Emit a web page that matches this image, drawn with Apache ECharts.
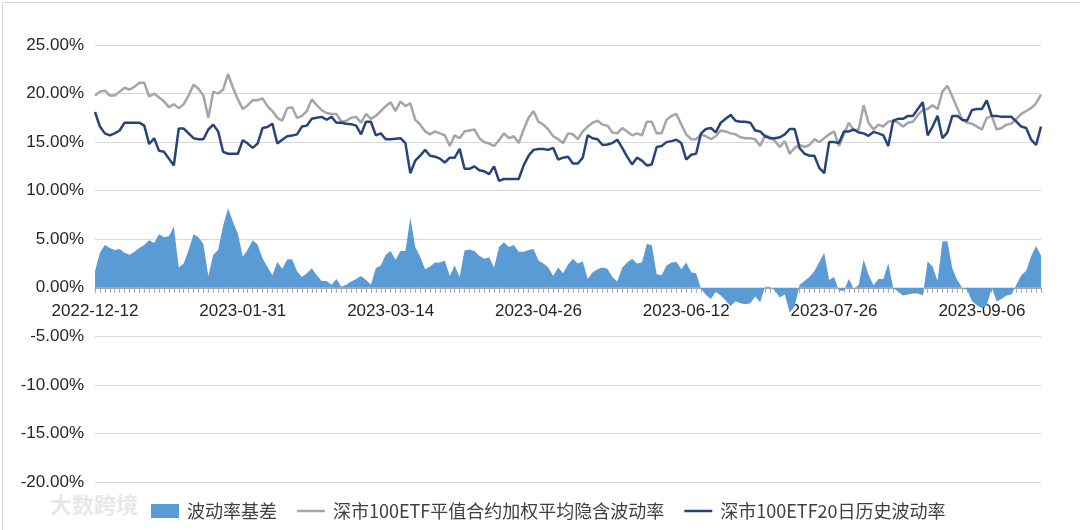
<!DOCTYPE html>
<html>
<head>
<meta charset="utf-8">
<script src="https://cdn.jsdelivr.net/npm/echarts@6/dist/echarts.min.js"></script>
<style>html,body{margin:0;padding:0;background:#fff}#c{width:1080px;height:530px}</style>
</head>
<body>
<div id="c"></div>
<script>
// ---- categories: trading days (SZSE) ----
const startDate = '2022-12-12';
const endDate = '2023-09-22';
const holidays = ['2023-01-02','2023-01-23','2023-01-24','2023-01-25','2023-01-26','2023-01-27',
  '2023-04-05','2023-05-01','2023-05-02','2023-05-03','2023-06-22','2023-06-23'];

// ---- series values (%) ----
const impliedVol = [
19.8,20.2,20.3,19.8,19.8,20.2,20.6,20.4,20.7,21.1,
21.1,19.7,20.0,19.6,19.2,18.6,18.9,18.5,18.9,19.8,
20.9,20.5,19.8,17.5,20.2,20.0,20.4,22.0,20.6,19.4,
18.4,18.8,19.3,19.3,19.5,18.7,18.2,17.5,17.2,18.5,
18.6,17.5,17.7,18.2,19.4,18.8,18.3,18.0,17.9,17.9,
17.1,17.2,17.5,17.6,17.0,17.9,17.4,17.7,18.2,18.7,
19.1,18.2,19.2,18.7,19.0,17.3,16.8,16.1,15.8,16.1,
15.9,15.7,14.6,15.7,15.4,16.1,16.2,16.3,15.4,15.0,
14.85,14.6,15.2,15.9,15.4,15.6,14.9,16.3,17.5,18.2,
17.1,16.8,16.3,15.6,15.3,14.9,15.9,15.8,15.3,16.1,
16.6,17.0,17.2,16.8,16.7,16.0,15.9,16.45,16.1,15.7,
15.9,15.7,17.1,17.1,15.9,15.9,17.3,17.7,17.9,16.8,
15.8,15.3,15.3,15.8,15.6,15.3,15.6,16.2,16.1,15.9,
15.8,15.5,15.4,15.4,15.3,14.6,15.7,15.5,15.1,14.5,
15.1,13.8,14.4,14.7,14.5,14.7,15.3,15.0,15.4,15.8,
16.1,14.6,15.8,17.0,16.2,16.3,18.8,17.0,16.3,16.8,
16.6,17.1,17.2,17.0,16.6,17.0,17.1,17.8,18.3,18.4,
18.8,18.4,20.2,20.8,19.7,18.5,17.3,17.0,16.9,16.6,
16.3,17.5,17.7,16.3,16.45,16.8,16.9,17.4,17.9,18.2,
18.5,19.0,19.9];

const histVol = [
18.1,16.6,15.9,15.7,15.9,16.2,17.0,17.0,17.0,17.0,
16.7,14.8,15.4,14.1,14.0,13.3,12.6,16.4,16.4,15.9,
15.4,15.3,15.3,16.3,16.8,16.1,14.0,13.8,13.8,13.8,
15.2,14.85,14.4,14.85,16.45,16.55,16.9,14.85,15.25,15.6,
15.67,15.8,16.6,16.7,17.4,17.5,17.6,17.3,17.6,17.0,
17.0,16.9,16.85,16.7,15.8,17.1,17.1,15.7,15.9,15.3,
15.3,15.35,15.4,14.9,11.8,13.1,13.6,14.2,13.6,13.5,
13.3,12.9,13.4,13.4,14.3,12.25,12.25,12.5,12.1,12.0,
11.7,12.5,11.0,11.2,11.2,11.2,11.2,12.6,13.6,14.2,
14.3,14.3,14.2,14.4,13.2,13.4,13.5,12.8,12.8,13.4,
15.7,15.4,15.3,14.7,14.75,14.9,15.25,14.4,13.5,12.7,
13.4,13.1,12.6,12.7,14.5,14.6,15.0,15.1,15.25,14.9,
13.2,13.7,13.8,15.9,16.35,16.45,16.0,17.0,17.4,17.8,
17.2,17.1,17.1,17.0,16.2,16.1,15.6,15.4,15.4,15.5,
15.8,16.35,16.35,14.4,13.8,13.6,13.6,12.35,11.8,15.0,
15.0,14.9,16.1,16.1,16.3,16.0,15.9,15.65,16.05,15.9,
15.7,14.6,17.2,17.4,17.4,17.7,17.7,18.4,19.1,15.7,
16.6,17.7,15.4,16.0,17.7,17.7,17.3,17.2,18.3,18.4,
18.4,19.3,17.7,17.7,17.6,17.6,17.6,17.1,16.6,16.45,
15.25,14.7,16.6];

const volBasis = [
1.7,3.6,4.4,4.1,3.9,4.0,3.6,3.4,3.7,4.1,
4.4,4.9,4.6,5.5,5.2,5.3,6.3,2.1,2.5,3.9,
5.5,5.2,4.5,1.2,3.4,3.9,6.4,8.2,6.8,5.6,
3.2,3.95,4.9,4.45,3.05,2.15,1.3,2.65,1.95,2.9,
2.93,1.7,1.1,1.5,2.0,1.3,0.7,0.7,0.3,0.9,
0.1,0.3,0.65,0.9,1.2,0.8,0.3,2.0,2.3,3.4,
3.8,2.85,3.8,3.8,7.2,4.2,3.2,1.9,2.2,2.6,
2.6,2.8,1.2,2.3,1.1,3.85,3.95,3.8,3.3,3.0,
3.15,2.1,4.2,4.7,4.2,4.4,3.7,3.7,3.9,4.0,
2.8,2.5,2.1,1.2,2.1,1.5,2.4,3.0,2.5,2.7,
0.9,1.6,1.9,2.1,1.95,1.1,0.65,2.05,2.6,3.0,
2.5,2.6,4.5,4.4,1.4,1.3,2.3,2.6,2.65,1.9,
2.6,1.6,1.5,-0.1,-0.75,-1.15,-0.4,-0.8,-1.3,-1.9,
-1.4,-1.6,-1.7,-1.6,-0.9,-1.5,0.1,0.1,-0.3,-1.0,
-0.7,-2.55,-1.95,0.3,0.7,1.1,1.7,2.65,3.6,0.8,
1.1,-0.3,-0.3,0.9,-0.1,0.3,2.9,1.35,0.25,0.9,
0.9,2.5,0.0,-0.4,-0.8,-0.7,-0.6,-0.6,-0.8,2.7,
2.2,0.7,4.8,4.8,2.0,0.8,0.0,-0.2,-1.4,-1.8,
-2.1,-1.8,0.0,-1.4,-1.15,-0.8,-0.7,0.3,1.3,1.75,
3.25,4.3,3.3];

const yTicks = { min: -20, max: 25, step: 5 };
const seriesNames = ['波动率基差', '深市100ETF平值合约加权平均隐含波动率', '深市100ETF20日历史波动率'];
const watermarkText = '大数跨境';

// ---- build dates ----
function pad(n){return n<10?'0'+n:''+n;}
const dates = [];
{
  const hs = new Set(holidays);
  const [sy,sm,sd] = startDate.split('-').map(Number);
  const [ey,em,ed] = endDate.split('-').map(Number);
  let t = Date.UTC(sy,sm-1,sd);
  const end = Date.UTC(ey,em-1,ed);
  while (t <= end) {
    const d = new Date(t);
    const dow = d.getUTCDay();
    const s = d.getUTCFullYear()+'-'+pad(d.getUTCMonth()+1)+'-'+pad(d.getUTCDate());
    if (dow !== 0 && dow !== 6 && !hs.has(s)) dates.push(s);
    t += 86400000;
  }
}

const gridTop = 45, gridBottom = 48, H = 530;
const plotH = H - gridTop - gridBottom;
const zeroOffset = plotH * (yTicks.min / (yTicks.min - yTicks.max)); // px from grid bottom up to zero line

const chart = echarts.init(document.getElementById('c'), null, {renderer:'canvas'});
const fontLatin = 'Liberation Sans, Arial, sans-serif';
const fontCJK = '"Noto Sans CJK SC", sans-serif';
const lineIcon = 'path://M0,0L28,0L28,2.5L0,2.5Z';
chart.setOption({
  animation: false,
  backgroundColor: '#ffffff',
  grid: { left: 95, right: 39, top: gridTop, bottom: gridBottom, containLabel: false },
  legend: {
    left: 146, top: 497,
    itemWidth: 28, itemHeight: 14, itemGap: 20,
    textStyle: { fontFamily: fontCJK, fontSize: 18, color: '#404040', padding: [0,0,0,3] },
    data: [
      { name: seriesNames[0], icon: 'rect' },
      { name: seriesNames[1], icon: lineIcon },
      { name: seriesNames[2], icon: lineIcon }
    ]
  },
  graphic: [
    { type: 'rect', left: 0, top: 0, shape: { width: 1079, height: 529 }, style: { fill: 'none', stroke: '#d9d9d9', lineWidth: 1 }, silent: true },
    { type: 'text', left: 50, top: 494, style: { text: watermarkText, fill: '#e8e8e8', font: 'bold 22px "Noto Sans CJK SC"' }, silent: true }
  ],
  xAxis: {
    type: 'category',
    data: dates,
    boundaryGap: false,
    axisLine: { onZero: true, lineStyle: { color: '#a6a6a6', width: 1 } },
    axisTick: { show: true, interval: 0, length: 5, lineStyle: { color: '#a6a6a6' } },
    axisLabel: { interval: 29, margin: 15 - zeroOffset, fontFamily: fontLatin, fontSize: 17, color: '#262626' },
    splitLine: { show: false }
  },
  yAxis: {
    type: 'value',
    min: yTicks.min, max: yTicks.max, interval: yTicks.step,
    axisLine: { show: false },
    axisTick: { show: false },
    axisLabel: { margin: 11, fontFamily: fontLatin, fontSize: 17, color: '#262626', formatter: v => v.toFixed(2) + '%' },
    splitLine: { lineStyle: { color: '#d9d9d9', width: 1 } }
  },
  series: [
    {
      name: seriesNames[0], type: 'line', data: volBasis, symbol: 'none',
      lineStyle: { width: 0 }, itemStyle: { color: '#5b9bd5' },
      areaStyle: { color: '#5b9bd5', opacity: 1 }, z: 1
    },
    {
      name: seriesNames[1], type: 'line', data: impliedVol, symbol: 'none',
      lineStyle: { width: 2.5, color: '#a5a5a5' }, itemStyle: { color: '#a5a5a5' }, z: 2
    },
    {
      name: seriesNames[2], type: 'line', data: histVol, symbol: 'none',
      lineStyle: { width: 2.5, color: '#264478' }, itemStyle: { color: '#264478' }, z: 3
    }
  ]
});
</script>
</body>
</html>
